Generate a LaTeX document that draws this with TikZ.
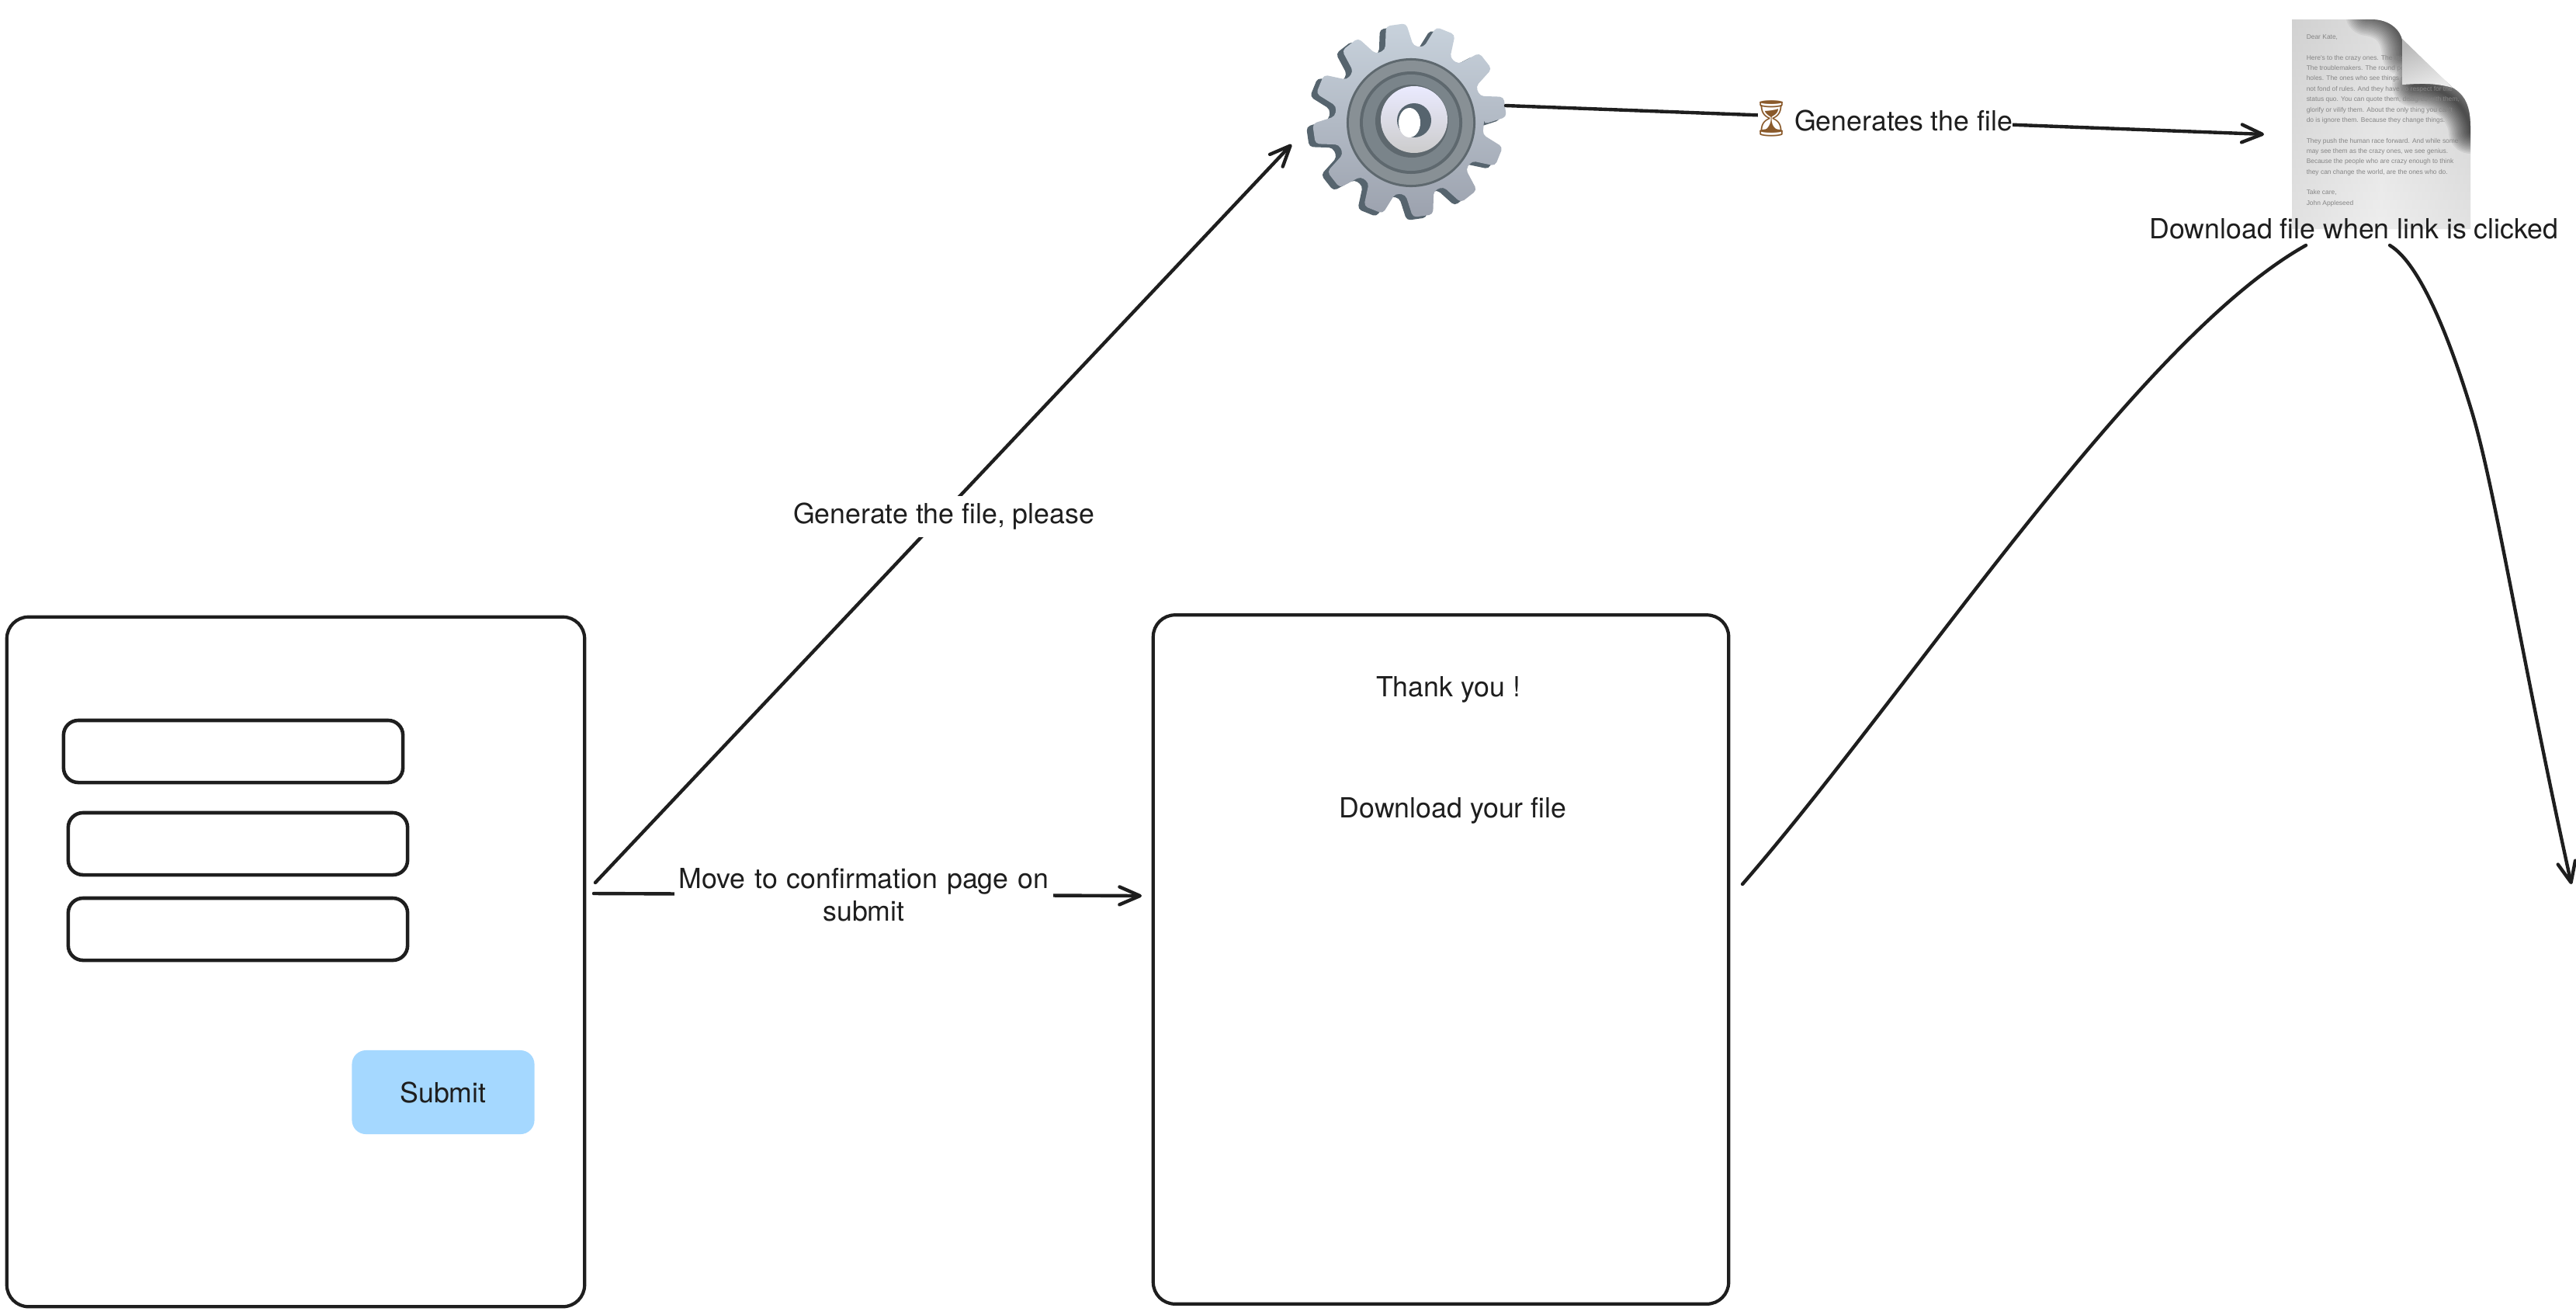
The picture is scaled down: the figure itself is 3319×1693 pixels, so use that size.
\documentclass[tikz,border=0pt]{standalone}
\usepackage{fontspec}
\setmainfont{TeX Gyre Heros}
\newfontfamily\docfont{Liberation Sans}
\newfontfamily\emojifont{Noto Emoji}
\usetikzlibrary{arrows.meta}
\definecolor{ink}{HTML}{1E1E1E}
\definecolor{subm}{HTML}{A5D8FF}
\definecolor{gearside}{HTML}{56646E}
\definecolor{geartop}{HTML}{C8D2DC}
\definecolor{gearbot}{HTML}{9CA2AE}
\definecolor{ringa}{HTML}{5E686E}
\definecolor{ringb}{HTML}{889095}
\definecolor{ringc}{HTML}{5E686E}
\definecolor{ringd}{HTML}{7A848A}
\definecolor{sand}{HTML}{8A5A2B}
\tikzset{
  wire/.style={draw=ink,line width=1.25pt,line cap=round,line join=round},
  arrowline/.style={wire,-{Straight Barb[length=7.5pt,width=6.5pt,round]}},
  panel/.style={draw=ink,line width=1.2pt,rounded corners=0.28cm,outer sep=0pt,inner sep=0pt},
  field/.style={draw=ink,line width=1.3pt,rounded corners=0.19cm,minimum width=4.37cm,minimum height=0.8cm,outer sep=0pt,inner sep=0pt},
  btn/.style={fill=subm,rounded corners=0.18cm,minimum width=2.35cm,minimum height=1.08cm,outer sep=0pt,inner sep=0pt,text=black},
  lbl/.style={text=ink,font=\fontsize{10.15}{12}\selectfont,inner sep=0pt,outer sep=0pt},
  masked/.style={lbl,fill=white,align=center},
  gearshape/.pic={
    \path[pic actions,rounded corners=0.05cm]
      (3:96) \foreach \t in {-8,-38,...,-338}{ -- ({\t+11}:96) -- ({\t+6}:125) -- ({\t-6}:125) -- ({\t-11}:96)} -- cycle;
  },
}
\begin{document}
\begin{tikzpicture}[x=0.01cm,y=-0.01cm]
\useasboundingbox (0,0) rectangle (3319,1693);
\fill[white] (0,0) rectangle (3319,1693);

% panels
\node[panel,minimum width=7.44cm,minimum height=8.88cm] (form) at (381,1239) {};
\node[field] (inputa) at (300.5,968) {};
\node[field] (inputb) at (306.5,1087) {};
\node[field] (inputc) at (306.5,1197) {};
\node[btn,lbl] (submit) at (571,1407) {Submit};
\node[panel,minimum width=7.41cm,minimum height=8.87cm] (confirm) at (1856.5,1236) {};
\node[lbl,anchor=base] (thanks) at (1866,897) {Thank you !};
\node[lbl,anchor=base] (dlfile) at (1872,1053) {Download your file};

% gear
\begin{scope}[shift={(1816,155)}]
  \pic[fill=gearside,shift={(-8,4)}] {gearshape};
  \pic[top color=geartop,bottom color=gearbot] {gearshape};
  \node[circle,minimum size=1.66cm,fill=ringa,inner sep=0pt,outer sep=0pt] (gear) at (2,3) {};
  \fill[ringb] (2,3) circle (80);
  \fill[ringc] (2,3) circle (66);
  \fill[ringd] (2,3) circle (62);
  \fill[ringa] (3,1) circle (47);
  \shade[top color=white!92!blue,bottom color=black!20] (6,-1) circle (43);
  \fill[gearside] (6,0) circle (22);
  \fill[white] (0,3) ellipse (14 and 19);
\end{scope}

% document
\begin{scope}
  \clip (2953,25) -- (3055,25) .. controls (3080,25) and (3093,40) .. (3095,52) -- (3160,113)
     .. controls (3175,122) and (3183,135) .. (3183,165) -- (3183,295) -- (2953,295) -- cycle;
  \shade[top color=black!19,bottom color=black!9] (2953,25) rectangle (3183,295);
  \shade[left color=black!16,right color=black!16,middle color=black!2,opacity=.35] (2953,25) rectangle (3183,295);
  \foreach \w in {4,8,...,56}{
    \draw[black,opacity=.055,line width=\w*0.2845pt,line cap=round] (3050,18) .. controls (3080,22) and (3095,40) .. (3097,70);
    \draw[black,opacity=.065,line width=\w*0.2845pt,line cap=round] (3110,110) .. controls (3150,112) and (3180,135) .. (3183,170);
  }
  \node[anchor=north west,inner sep=0pt,text=black!48,align=left,font=\docfont\fontsize{2.4}{3.8}\selectfont] (letter) at (2971,44) {Dear Kate,\\[3.8pt]
Here's to the crazy ones. The misfits. The rebels.\\
The troublemakers. The round pegs in the square\\
holes. The ones who see things differently. They're\\
not fond of rules. And they have no respect for the\\
status quo. You can quote them, disagree with them,\\
glorify or vilify them. About the only thing you can't\\
do is ignore them. Because they change things.\\[3.8pt]
They push the human race forward. And while some\\
may see them as the crazy ones, we see genius.\\
Because the people who are crazy enough to think\\
they can change the world, are the ones who do.\\[3.8pt]
Take care,\\
John Appleseed};
\end{scope}
\path[left color=black!28,right color=black!8,shading angle=20] (3095,50) -- (3160,113) .. controls (3135,106) and (3115,108) .. (3095,109) -- cycle;
\coordinate (docin) at (2917,173);

% connectors
\coordinate (formout) at (767,1137);
\coordinate (gearin) at (1664,186);
\draw[arrowline] (formout) -- (gearin);
\node[masked,minimum height=0.53cm] (genlabel) at (1216,665) {Generate the file, please};

\coordinate (gearout) at (1940,136);
\draw[arrowline] (gearout) -- (docin);
\node[masked,anchor=base west,text depth=0.1cm,text height=0.3cm] (gendoc) at (2265,168) {\makebox[9.7pt][c]{\emojifont\fontsize{13}{13}\selectfont\textcolor{sand}{⏳}}\hspace{3.7pt}\rmfamily Generates the file};

\coordinate (confa) at (765,1151);
\coordinate (confb) at (1471,1154);
\draw[arrowline] (confa) -- (confb);
\node[masked,text width=4.88cm] (movelabel) at (1113,1153) {Move to confirmation page on\\submit};

\coordinate (confout) at (2245,1139);
\coordinate (linkleft) at (2971,316);
\coordinate (linkright) at (3079,316);
\coordinate (offpage) at (3313,1139);
\draw[wire] (confout) .. controls (2464,887) and (2752,439) .. (linkleft);
\draw[arrowline] (linkright) .. controls (3124,343) and (3165,465) .. (3185,531) .. controls (3215,631) and (3247,839) .. (offpage);
\node[lbl,anchor=base] (dllabel) at (3033,307) {Download file when link is clicked};
\end{tikzpicture}
\end{document}
